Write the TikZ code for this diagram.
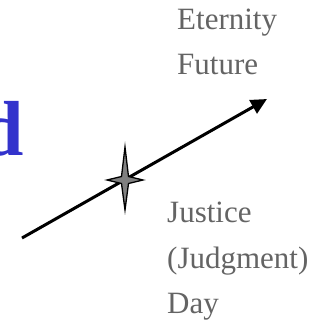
\documentclass[tikz,border=0pt]{standalone}
\usepackage{fontspec}
\setmainfont{Liberation Serif}
\usetikzlibrary{arrows.meta,positioning,calc}
\definecolor{titleblue}{RGB}{51,51,204}
\definecolor{labelgray}{RGB}{100,100,100}

\begin{document}
\begin{tikzpicture}[
        x=1pt, y=-1pt,
        lbl/.style={anchor=base west, inner sep=0pt, text=labelgray, font=\fontsize{31}{45}\selectfont},
        title/.style={anchor=base west, inner sep=0pt, text=titleblue, font=\fontsize{78}{78}\selectfont\bfseries},
        timeline/.style={line width=3pt, -{Triangle[length=16pt,width=15pt]}},
        spark/.style={draw=black, line width=1.3pt, fill=gray, line join=miter},
      ]
      \useasboundingbox (0,0) rectangle (331,323);
      \clip (0,0) rectangle (331,323);
      % cut-off title letter
      \node [title] (word) at (-19.5,155) {d};
      % time arrow
      \coordinate (past) at (22,238);
      \coordinate (future) at (267,99);
      \coordinate (now) at (125,180);
      \draw [timeline] (past) -- (future);
      % star at the present moment
      \draw [spark] ($(now)+(0,-33)$) -- ($(now)+(3.5,-3.5)$) -- ($(now)+(18,0)$) -- ($(now)+(3.5,3.5)$)
        -- ($(now)+(0,30)$) -- ($(now)+(-3.5,3.5)$) -- ($(now)+(-18,0)$) -- ($(now)+(-3.5,-3.5)$) -- cycle;
      % labels
      \node [lbl] (eternity) at (177,30) {Eternity};
      \node [lbl] (futurelbl) at (177,75) {Future};
      \node [lbl] (justice) at (167,222) {Justice};
      \node [lbl] (judgment) at (167,268) {(Judgment)};
      \node [lbl] (day) at (167,313) {Day};
    \end{tikzpicture}
\end{document}
